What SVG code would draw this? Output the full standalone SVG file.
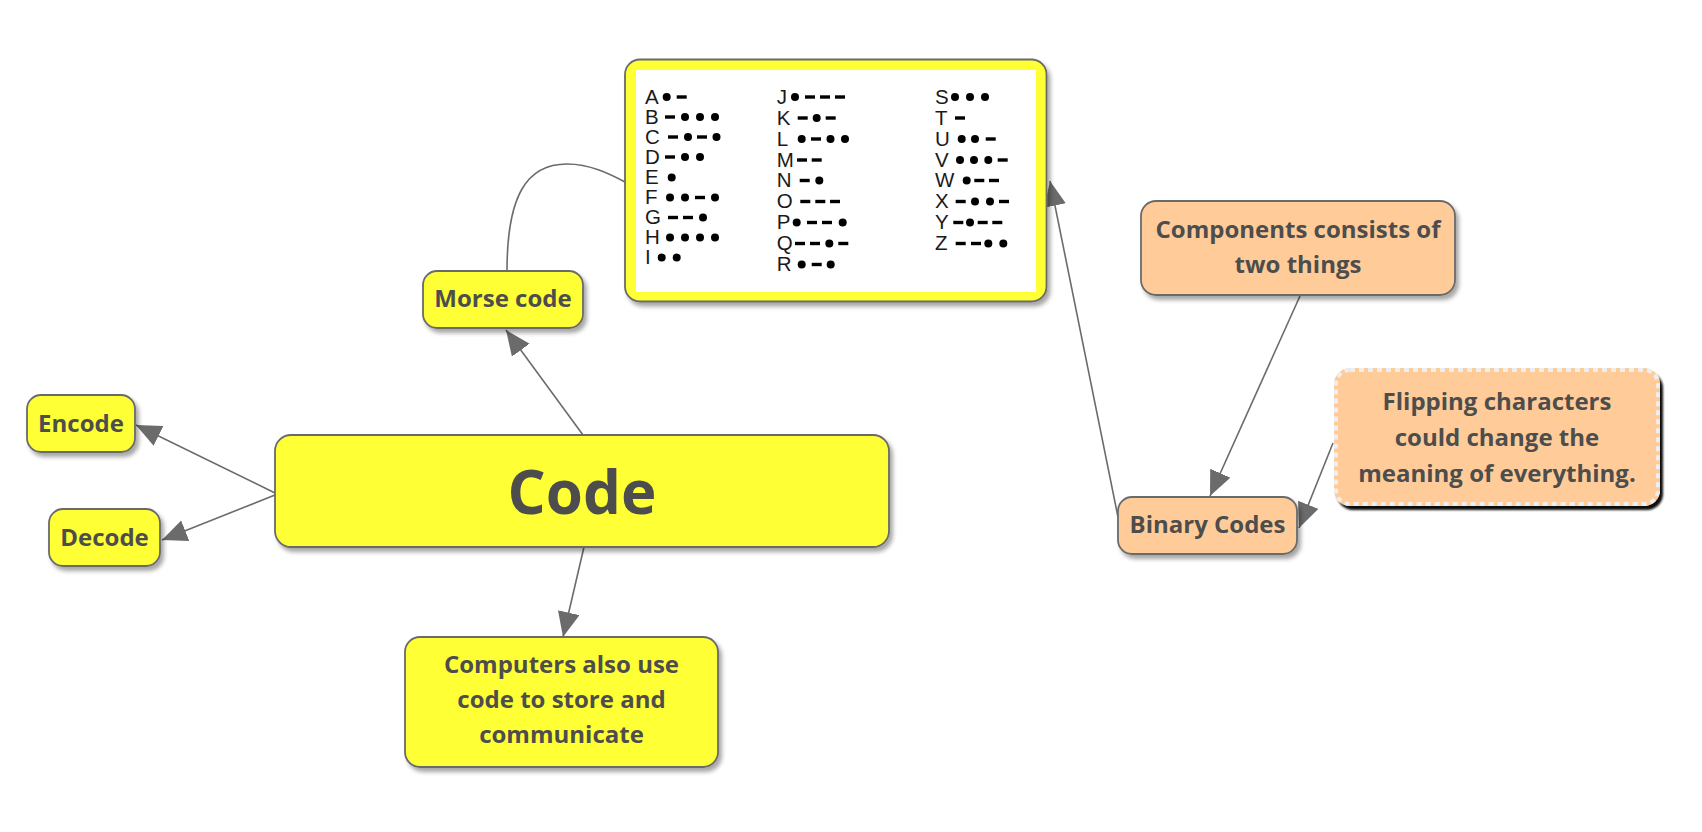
<svg xmlns="http://www.w3.org/2000/svg" xmlns:xlink="http://www.w3.org/1999/xlink" width="1702" height="832" viewBox="0 0 1702 832">
<style>
.node{stroke:#6b6b6b;stroke-width:1.8}
.yel{fill:#ffff36}
.org{fill:#ffcc99}
.lbl{font-family:"Open Sans","Noto Sans","DejaVu Sans",sans-serif;font-weight:700;fill:#4d4d4d;text-anchor:middle}
.l24{font-size:24px}
.conn{stroke:#6b6b6b;stroke-width:1.6;fill:none}
.ml{font-family:"Liberation Sans",Arial,sans-serif;font-size:20.5px;fill:#1a1a1a}
</style>
<defs>
<filter id="sh" x="-10%" y="-20%" width="130%" height="150%">
<feDropShadow dx="3" dy="4" stdDeviation="2" flood-color="#000" flood-opacity="0.35"/>
</filter>
<filter id="shk" x="-10%" y="-20%" width="130%" height="150%">
<feDropShadow dx="3" dy="4" stdDeviation="0.8" flood-color="#000" flood-opacity="0.95"/>
</filter>
<marker id="ah" markerUnits="userSpaceOnUse" markerWidth="26" markerHeight="22" refX="25" refY="11" orient="auto">
<path d="M0,0 L25,11 L0,22 Z" fill="#6b6b6b"/>
</marker>
<circle id="dt" r="4" fill="#000"/>
<rect id="ds" x="-5" y="-1.7" width="10" height="3.4" fill="#000"/>
</defs>
<rect width="1702" height="832" fill="#ffffff"/>

<g id="connectors">
<line class="conn" x1="275" y1="493" x2="136" y2="425" marker-end="url(#ah)"/>
<line class="conn" x1="275" y1="495" x2="162" y2="540" marker-end="url(#ah)"/>
<line class="conn" x1="583" y1="435" x2="506" y2="330" marker-end="url(#ah)"/>
<line class="conn" x1="584" y1="547" x2="563" y2="637" marker-end="url(#ah)"/>
<path class="conn" d="M507,271 C507,195 527,164 567,164 C590,164 610,174 625,182"/>
<line class="conn" x1="1118" y1="517" x2="1050" y2="181" marker-end="url(#ah)"/>
<line class="conn" x1="1300" y1="296" x2="1210" y2="496" marker-end="url(#ah)"/>
<line class="conn" x1="1333" y1="443" x2="1299" y2="528" marker-end="url(#ah)"/>
</g>

<g id="code">
<rect class="node yel" x="275" y="435" width="614" height="112" rx="16" filter="url(#sh)"/>
<text class="lbl" x="582" y="514" font-size="60">Code</text>
</g>

<g id="encode">
<rect class="node yel" x="27" y="395" width="108" height="57" rx="14" filter="url(#sh)"/>
<text class="lbl l24" x="81" y="432">Encode</text>
</g>

<g id="decode">
<rect class="node yel" x="49" y="509" width="111" height="57" rx="14" filter="url(#sh)"/>
<text class="lbl l24" x="104.5" y="546">Decode</text>
</g>

<g id="morse-code">
<rect class="node yel" x="423" y="271" width="160" height="57" rx="14" filter="url(#sh)"/>
<text class="lbl l24" x="503" y="307">Morse code</text>
</g>

<g id="computers">
<rect class="node yel" x="405" y="637" width="313" height="130" rx="15" filter="url(#sh)"/>
<text class="lbl l24" x="561.5" y="673">Computers also use</text>
<text class="lbl l24" x="561.5" y="708">code to store and</text>
<text class="lbl l24" x="561.5" y="743">communicate</text>
</g>

<g id="morse-table">
<rect class="node yel" x="625" y="59.5" width="421.5" height="242" rx="15" filter="url(#sh)"/>
<rect x="636" y="70" width="400" height="222" fill="#ffffff"/>
<g class="ml">
<text x="645" y="103.5">A</text>
<text x="645" y="123.5">B</text>
<text x="645" y="143.5">C</text>
<text x="645" y="163.5">D</text>
<text x="645" y="184">E</text>
<text x="645" y="204">F</text>
<text x="645" y="224">G</text>
<text x="645" y="244">H</text>
<text x="645" y="264">I</text>
<text x="776.7" y="103.5">J</text>
<text x="776.7" y="124.5">K</text>
<text x="776.7" y="145.5">L</text>
<text x="776.7" y="166.5">M</text>
<text x="776.7" y="187">N</text>
<text x="776.7" y="208">O</text>
<text x="776.7" y="229">P</text>
<text x="776.7" y="250">Q</text>
<text x="776.7" y="271">R</text>
<text x="935" y="103.5">S</text>
<text x="935" y="124.5">T</text>
<text x="935" y="145.5">U</text>
<text x="935" y="166.5">V</text>
<text x="935" y="187">W</text>
<text x="935" y="208">X</text>
<text x="935" y="229">Y</text>
<text x="935" y="250">Z</text>
</g>
<g id="morse-symbols">
<use href="#dt" x="666.7" y="97"/><use href="#ds" x="681.7" y="97"/>
<use href="#ds" x="670" y="117"/><use href="#dt" x="685" y="117"/><use href="#dt" x="700" y="117"/><use href="#dt" x="715" y="117"/>
<use href="#ds" x="673" y="137"/><use href="#dt" x="688" y="137"/><use href="#ds" x="702" y="137"/><use href="#dt" x="716.5" y="137"/>
<use href="#ds" x="670" y="157"/><use href="#dt" x="685" y="157"/><use href="#dt" x="700" y="157"/>
<use href="#dt" x="671.7" y="177.5"/>
<use href="#dt" x="670" y="197.5"/><use href="#dt" x="685" y="197.5"/><use href="#ds" x="700" y="197.5"/><use href="#dt" x="715" y="197.5"/>
<use href="#ds" x="673" y="217.5"/><use href="#ds" x="688" y="217.5"/><use href="#dt" x="703" y="217.5"/>
<use href="#dt" x="670" y="237.5"/><use href="#dt" x="685" y="237.5"/><use href="#dt" x="700" y="237.5"/><use href="#dt" x="715" y="237.5"/>
<use href="#dt" x="661.7" y="257.5"/><use href="#dt" x="676.7" y="257.5"/>

<use href="#dt" x="795" y="97"/><use href="#ds" x="810" y="97"/><use href="#ds" x="825" y="97"/><use href="#ds" x="840" y="97"/>
<use href="#ds" x="802.7" y="118"/><use href="#dt" x="816.7" y="118"/><use href="#ds" x="830.7" y="118"/>
<use href="#dt" x="801.7" y="139"/><use href="#ds" x="816" y="139"/><use href="#dt" x="830.5" y="139"/><use href="#dt" x="845" y="139"/>
<use href="#ds" x="802" y="160"/><use href="#ds" x="816.7" y="160"/>
<use href="#ds" x="804.7" y="180.5"/><use href="#dt" x="819.3" y="180.5"/>
<use href="#ds" x="805.3" y="201.5"/><use href="#ds" x="820.3" y="201.5"/><use href="#ds" x="835" y="201.5"/>
<use href="#dt" x="796.7" y="222.5"/><use href="#ds" x="812" y="222.5"/><use href="#ds" x="827" y="222.5"/><use href="#dt" x="842.7" y="222.5"/>
<use href="#ds" x="800" y="243.5"/><use href="#ds" x="815" y="243.5"/><use href="#dt" x="829.3" y="243.5"/><use href="#ds" x="843.3" y="243.5"/>
<use href="#dt" x="801.7" y="264.5"/><use href="#ds" x="816.7" y="264.5"/><use href="#dt" x="830.7" y="264.5"/>

<use href="#dt" x="955" y="97"/><use href="#dt" x="970" y="97"/><use href="#dt" x="985" y="97"/>
<use href="#ds" x="960" y="118"/>
<use href="#dt" x="961.7" y="139"/><use href="#dt" x="975" y="139"/><use href="#ds" x="990.7" y="139"/>
<use href="#dt" x="960" y="160"/><use href="#dt" x="974" y="160"/><use href="#dt" x="988.3" y="160"/><use href="#ds" x="1002.7" y="160"/>
<use href="#dt" x="966.7" y="180.5"/><use href="#ds" x="979.3" y="180.5"/><use href="#ds" x="994" y="180.5"/>
<use href="#ds" x="960.7" y="201.5"/><use href="#dt" x="975" y="201.5"/><use href="#dt" x="990" y="201.5"/><use href="#ds" x="1004" y="201.5"/>
<use href="#ds" x="958.3" y="222.5"/><use href="#dt" x="970" y="222.5"/><use href="#ds" x="982.7" y="222.5"/><use href="#ds" x="997.3" y="222.5"/>
<use href="#ds" x="960.7" y="243.5"/><use href="#ds" x="976" y="243.5"/><use href="#dt" x="988.3" y="243.5"/><use href="#dt" x="1003.3" y="243.5"/>
</g>
</g>

<g id="components">
<rect class="node org" x="1141" y="201" width="314" height="94" rx="15" filter="url(#sh)"/>
<text class="lbl l24" x="1298" y="238">Components consists of</text>
<text class="lbl l24" x="1298" y="273">two things</text>
</g>

<g id="binary-codes">
<rect class="node org" x="1118" y="497" width="179" height="57" rx="14" filter="url(#sh)"/>
<text class="lbl l24" x="1207.5" y="533">Binary Codes</text>
</g>

<g id="flipping">
<rect x="1334" y="368" width="326" height="138" rx="16" fill="#ffcc99" filter="url(#shk)"/>
<rect x="1336" y="370" width="322" height="134" rx="14" fill="none" stroke="#eeeeee" stroke-width="4" stroke-dasharray="5 4"/>
<text class="lbl l24" x="1497" y="410">Flipping characters</text>
<text class="lbl l24" x="1497" y="446">could change the</text>
<text class="lbl l24" x="1497" y="482">meaning of everything.</text>
</g>
</svg>
